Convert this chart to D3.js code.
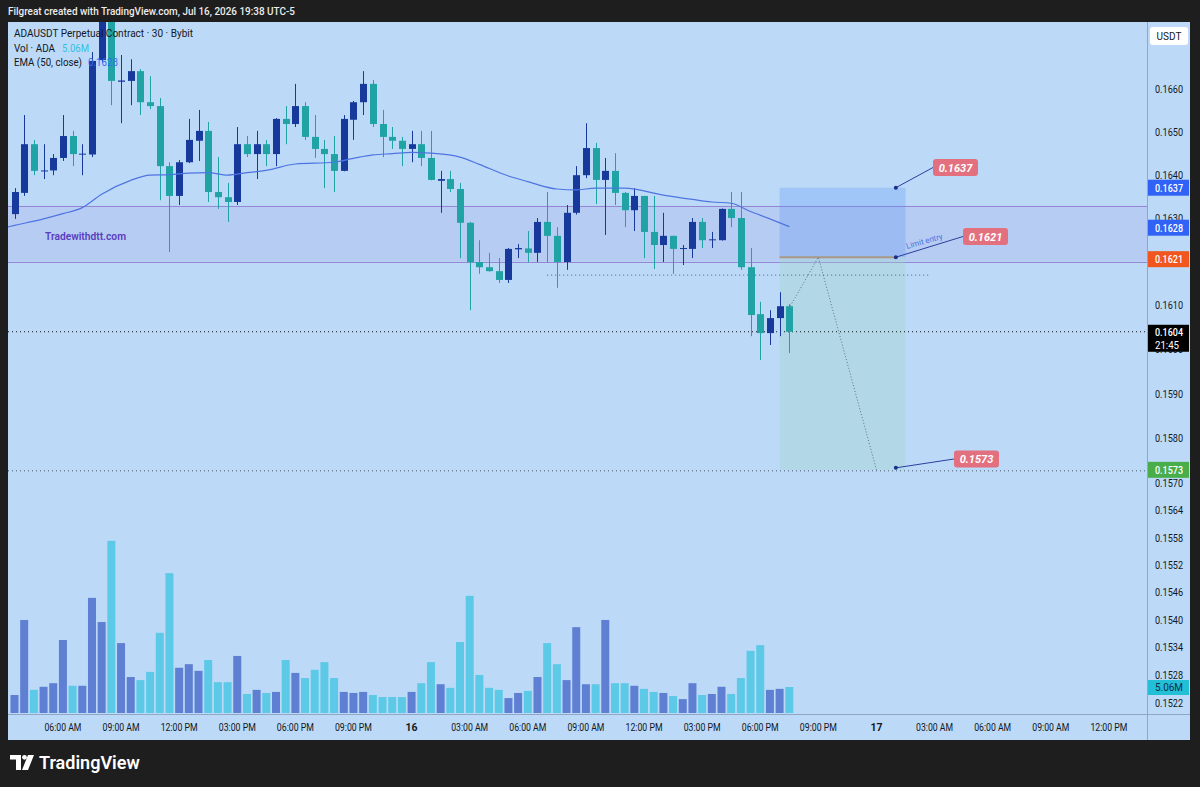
<!DOCTYPE html>
<html><head><meta charset="utf-8">
<script src="https://cdn.jsdelivr.net/npm/d3@7/dist/d3.min.js"></script>
<style>html,body{margin:0;padding:0;background:#1e1e1e;}svg{display:block;}text{font-family:Roboto,"Liberation Sans",sans-serif;}</style>
</head><body>
<svg id="c" width="1200" height="787"></svg>
<script>
// ---------------- DATA ----------------
const startTime = "2026-07-15T03:30:00Z";   // first 30m candle
const open = [
0.16309,0.16358,0.16471,0.16408,0.16410,0.16439,0.16490,0.16447,0.16447,0.16668,
0.16780,0.16617,0.16619,0.16642,0.16569,0.16560,0.16420,0.16351,0.16429,0.16479,
0.16502,0.16360,0.16348,0.16337,0.16471,0.16448,0.16471,0.16448,0.16530,0.16518,
0.16560,0.16488,0.16460,0.16448,0.16409,0.16528,0.16569,0.16612,0.16518,0.16488,
0.16479,0.16460,0.16471,0.16439,0.16386,0.16390,0.16367,0.16289,0.16199,0.16187,
0.16178,0.16158,0.16228,0.16230,0.16220,0.16291,0.16259,0.16199,0.16312,0.16399,
0.16462,0.16388,0.16409,0.16358,0.16318,0.16351,0.16268,0.16238,0.16259,0.16229,
0.16229,0.16291,0.16249,0.16249,0.16321,0.16300,0.16187,0.16080,0.16037,0.16071,
0.16098];
const high = [
0.16369,0.16539,0.16481,0.16471,0.16448,0.16539,0.16502,0.16471,0.16687,0.16798,
0.16795,0.16680,0.16670,0.16647,0.16630,0.16579,0.16429,0.16434,0.16530,0.16551,
0.16523,0.16441,0.16381,0.16511,0.16490,0.16502,0.16481,0.16532,0.16560,0.16612,
0.16569,0.16539,0.16481,0.16490,0.16539,0.16572,0.16642,0.16621,0.16551,0.16511,
0.16488,0.16502,0.16502,0.16502,0.16409,0.16409,0.16381,0.16291,0.16249,0.16220,
0.16208,0.16231,0.16240,0.16270,0.16300,0.16360,0.16279,0.16330,0.16420,0.16520,
0.16474,0.16439,0.16450,0.16360,0.16369,0.16351,0.16351,0.16312,0.16259,0.16238,
0.16300,0.16300,0.16268,0.16322,0.16360,0.16360,0.16231,0.16108,0.16089,0.16130,
0.16103];
const low = [
0.16298,0.16351,0.16399,0.16390,0.16399,0.16432,0.16420,0.16399,0.16441,0.16663,
0.16562,0.16520,0.16562,0.16539,0.16553,0.16341,0.16222,0.16330,0.16427,0.16432,
0.16337,0.16321,0.16291,0.16330,0.16441,0.16390,0.16420,0.16420,0.16471,0.16511,
0.16481,0.16439,0.16369,0.16360,0.16408,0.16481,0.16539,0.16511,0.16441,0.16460,
0.16420,0.16429,0.16420,0.16387,0.16312,0.16360,0.16208,0.16089,0.16172,0.16177,
0.16151,0.16151,0.16208,0.16199,0.16199,0.16199,0.16140,0.16181,0.16308,0.16392,
0.16332,0.16261,0.16330,0.16279,0.16270,0.16208,0.16183,0.16199,0.16172,0.16192,
0.16208,0.16231,0.16231,0.16248,0.16279,0.16181,0.16030,0.15976,0.16010,0.16030,
0.15992];
const close = [
0.16360,0.16471,0.16409,0.16410,0.16439,0.16490,0.16448,0.16449,0.16666,0.16782,
0.16619,0.16620,0.16642,0.16569,0.16560,0.16420,0.16351,0.16429,0.16481,0.16502,
0.16360,0.16348,0.16337,0.16471,0.16448,0.16471,0.16448,0.16530,0.16518,0.16560,
0.16488,0.16460,0.16448,0.16409,0.16530,0.16569,0.16612,0.16518,0.16488,0.16479,
0.16460,0.16471,0.16439,0.16388,0.16390,0.16367,0.16289,0.16199,0.16187,0.16178,
0.16158,0.16229,0.16231,0.16220,0.16291,0.16259,0.16199,0.16312,0.16399,0.16462,
0.16388,0.16409,0.16358,0.16318,0.16351,0.16268,0.16238,0.16259,0.16229,0.16231,
0.16291,0.16249,0.16251,0.16321,0.16300,0.16187,0.16078,0.16037,0.16071,0.16098,
0.16040];
// volume in millions ADA
const volume = [
3.5,18.1,4.5,5.1,5.8,14.2,5.3,5.3,22.4,17.7,
33.5,13.6,7.0,6.4,8.0,15.6,27.2,8.8,9.5,8.2,
10.3,6.0,6.0,11.1,3.7,4.5,3.9,4.1,10.3,7.8,
6.8,8.4,9.9,6.8,4.1,3.9,4.1,3.5,3.1,3.1,
3.1,4.1,5.8,9.9,5.6,4.9,13.8,22.8,7.4,4.9,
4.5,2.9,3.9,4.3,7.0,13.6,9.5,6.4,16.7,5.6,
5.6,18.1,5.8,5.8,5.3,4.7,4.1,3.9,3.3,2.7,
5.8,3.5,3.7,5.1,3.7,6.8,12.1,13.2,4.5,4.7,
5.06];
// EMA(50) read at candle indices
const emaIdx = [-1,0,3,5,7,9,12,14,16,18,20,22,24,26,29,33,35,37,39,41,43,46,48,51,53,56,58,60,63,67,70,72,74,76,78,80];
const emaVal = [0.16278,0.16283,0.16298,0.16310,0.16324,0.16355,0.16387,0.16399,0.16400,0.16404,0.16405,0.16399,0.16405,0.16410,0.16425,0.16429,0.16438,0.16446,0.16449,0.16452,0.16450,0.16441,0.16424,0.16397,0.16384,0.16367,0.16365,0.16369,0.16369,0.16353,0.16343,0.16337,0.16334,0.16315,0.16298,0.16280];
const priceTicks = [0.1660,0.1650,0.1640,0.1630,0.1610,0.1600,0.1590,0.1580,0.1570,0.1564,0.1558,0.1552,0.1546,0.1540,0.1534,0.1528,0.1522];
const timeTicks = ["2026-07-15T06:00Z","2026-07-15T09:00Z","2026-07-15T12:00Z","2026-07-15T15:00Z","2026-07-15T18:00Z","2026-07-15T21:00Z",
 "2026-07-16T00:00Z","2026-07-16T03:00Z","2026-07-16T06:00Z","2026-07-16T09:00Z","2026-07-16T12:00Z","2026-07-16T15:00Z","2026-07-16T18:00Z","2026-07-16T21:00Z",
 "2026-07-17T00:00Z","2026-07-17T03:00Z","2026-07-17T06:00Z","2026-07-17T09:00Z","2026-07-17T12:00Z"];
const zoneTop = 0.16328, zoneBottom = 0.16200;
const stopPrice = 0.1637, entryPrice = 0.1621, targetPrice = 0.1573, lastPrice = 0.1604, emaLast = 0.1628, dottedLevel = 0.16169;
const entryTouch = "2026-07-16T21:00:00Z", targetTouch = "2026-07-17T00:00:00Z";
const posStart = "2026-07-16T19:00:00Z", posEnd = "2026-07-17T01:30:00Z", posDots = "2026-07-17T01:00:00Z";
const dottedFrom = "2026-07-16T07:00:00Z", dottedTo = "2026-07-17T02:45:00Z";
const lastVolLabel = "5.06M";

// ---------------- SCALES ----------------
const W = 1200, H = 787;
const paneL = 8, paneR = 1147, paneT = 22, paneB = 714;
const HALF = 30*60*1000;
const t0 = new Date(startTime).getTime();
const times = open.map((d,i)=> new Date(t0 + i*HALF));
const x = d3.scaleUtc().domain([times[0], times[80]]).range([14.5, 14.5 + 80*9.685]);
const xi = k => x(new Date(t0 + k*HALF));
const y = d3.scaleLog().domain([0.1660, 0.1522]).range([89, 703]);
const yv = d3.scaleLinear().domain([0, 35]).range([713, 713 - 35*5.14]);

const UP = "#17399c", DOWN = "#1fa3a5";
const VUP = "#5f7fd2", VDOWN = "#5cc9e6";
const BG = "#bcdaf8";

const svg = d3.select("#c");
svg.append("rect").attr("width",W).attr("height",H).attr("fill","#1e1e1e");
// title
svg.append("text").attr("x",8).attr("y",15).attr("fill","#ececec").attr("font-size",11.5).attr("font-weight",500)
  .attr("textLength",287).attr("lengthAdjust","spacingAndGlyphs")
  .text("Filgreat created with TradingView.com, Jul 16, 2026 19:38 UTC-5");
// pane background
svg.append("rect").attr("x",paneL).attr("y",paneT).attr("width",1190-paneL).attr("height",740-paneT).attr("fill",BG);

const defs = svg.append("defs");
defs.append("clipPath").attr("id","pane").append("rect").attr("x",paneL).attr("y",paneT).attr("width",paneR-paneL).attr("height",paneB-paneT);
const g = svg.append("g").attr("clip-path","url(#pane)");

// purple zone
g.append("rect").attr("x",paneL).attr("width",paneR-paneL).attr("y",y(zoneTop)).attr("height",y(zoneBottom)-y(zoneTop))
  .attr("fill","#9575cd").attr("fill-opacity",0.13);
[zoneTop, zoneBottom].forEach(p=> g.append("line").attr("x1",paneL).attr("x2",paneR).attr("y1",Math.round(y(p))+0.5).attr("y2",Math.round(y(p))+0.5)
  .attr("stroke","#9587d6").attr("stroke-width",1));

// watermark
g.append("text").attr("x",45).attr("y",240).attr("fill","#5a3cbf").attr("font-size",11).attr("font-weight",600)
  .attr("textLength",81).attr("lengthAdjust","spacingAndGlyphs").text("Tradewithdtt.com");

// volume
g.selectAll("rect.vol").data(volume).join("rect").attr("class","vol")
  .attr("x",(d,i)=> x(times[i]) - 4).attr("width",8)
  .attr("y",d=> yv(d)).attr("height",d=> yv(0)-yv(d))
  .attr("fill",(d,i)=> close[i] >= open[i] ? VUP : VDOWN);

// position tool
const px0 = x(new Date(posStart)), px1 = x(new Date(posEnd));
g.append("rect").attr("x",px0).attr("width",px1-px0).attr("y",y(stopPrice)).attr("height",y(entryPrice)-y(stopPrice))
  .attr("fill","#5b8ff5").attr("fill-opacity",0.28);
g.append("rect").attr("x",px0).attr("width",px1-px0).attr("y",y(entryPrice)).attr("height",y(targetPrice)-y(entryPrice))
  .attr("fill","#9fd4c8").attr("fill-opacity",0.33);

// dotted horizontal lines
g.append("line").attr("x1",paneL).attr("x2",paneR).attr("y1",y(lastPrice)).attr("y2",y(lastPrice))
  .attr("stroke","#111").attr("stroke-width",1).attr("stroke-dasharray","1,3");
g.append("line").attr("x1",paneL).attr("x2",paneR).attr("y1",y(targetPrice)+1).attr("y2",y(targetPrice)+1)
  .attr("stroke","#4a5a6a").attr("stroke-width",1).attr("stroke-dasharray","1,3");
g.append("line").attr("x1",x(new Date(dottedFrom))).attr("x2",x(new Date(dottedTo))).attr("y1",y(dottedLevel)).attr("y2",y(dottedLevel))
  .attr("stroke","#4a5a6a").attr("stroke-width",1).attr("stroke-dasharray","1,3");

// candles
const cg = g.append("g");
times.forEach((t,i)=>{
  const cx = Math.round(x(t));
  const up = close[i] >= open[i];
  const col = up ? UP : DOWN;
  cg.append("line").attr("x1",cx+0.5).attr("x2",cx+0.5).attr("y1",y(high[i])).attr("y2",y(low[i])).attr("stroke",col).attr("stroke-width",1);
  const top = y(Math.max(open[i],close[i])), bot = y(Math.min(open[i],close[i]));
  cg.append("rect").attr("x",cx-3).attr("width",7).attr("y",top).attr("height",Math.max(1,bot-top)).attr("fill",col);
});

// EMA
g.append("path").datum(emaIdx.map((k,j)=>[xi(k), y(emaVal[j])]))
  .attr("d", d3.line().curve(d3.curveMonotoneX)).attr("fill","none").attr("stroke","#4f74e0").attr("stroke-width",1.2);

// entry line and projected path
const dotX = x(new Date(posDots));
g.append("line").attr("x1",px0).attr("x2",dotX).attr("y1",y(entryPrice)).attr("y2",y(entryPrice))
  .attr("stroke","#a89886").attr("stroke-width",2);
g.append("path").datum([[x(times[80])+1, y(high[80])+2],[x(new Date(entryTouch)), y(entryPrice)],[x(new Date(targetTouch)), y(targetPrice)]])
  .attr("d", d3.line()).attr("fill","none").attr("stroke","#5f6f80").attr("stroke-width",1).attr("stroke-dasharray","1,2");

// labels of position tool
const pills = [
  {p: stopPrice, lx: 933, ly: 167.5, txt: "0.1637"},
  {p: entryPrice, lx: 963, ly: 236.5, txt: "0.1621"},
  {p: targetPrice, lx: 954, ly: 459, txt: "0.1573"}
];
pills.forEach(d=>{
  const dy = d.p === targetPrice ? y(d.p)-2 : y(d.p);
  svg.append("line").attr("x1",dotX).attr("y1",dy).attr("x2",d.lx).attr("y2",d.ly).attr("stroke","#2a3f9e").attr("stroke-width",1);
  svg.append("circle").attr("cx",dotX).attr("cy",dy).attr("r",2).attr("fill","#1a2f8a");
  svg.append("rect").attr("x",d.lx).attr("y",d.ly-8.5).attr("width",45).attr("height",17).attr("rx",3).attr("fill","#e2707f");
  svg.append("text").attr("x",d.lx+22.5).attr("y",d.ly+4).attr("text-anchor","middle").attr("fill","#fff")
    .attr("font-size",11).attr("font-weight",700).attr("font-style","italic").text(d.txt);
});
svg.append("text").attr("transform",`translate(${907},${249}) rotate(-16)`).attr("fill","#4d6fe0").attr("font-size",8).text("Limit entry");

// legend
const lg = svg.append("g").attr("font-size",11.5).attr("fill","#131722");
lg.append("text").attr("x",14).attr("y",37).attr("textLength",179).attr("lengthAdjust","spacingAndGlyphs").text("ADAUSDT Perpetual Contract · 30 · Bybit");
lg.append("text").attr("x",14).attr("y",51.5).attr("textLength",41).attr("lengthAdjust","spacingAndGlyphs").text("Vol · ADA");
lg.append("text").attr("x",62).attr("y",51.5).attr("fill","#33c1dc").attr("textLength",27).attr("lengthAdjust","spacingAndGlyphs").text(lastVolLabel);
lg.append("text").attr("x",14).attr("y",65.5).attr("textLength",68).attr("lengthAdjust","spacingAndGlyphs").text("EMA (50, close)");
lg.append("text").attr("x",88).attr("y",65.5).attr("fill","#3a6cf0").attr("textLength",30).attr("lengthAdjust","spacingAndGlyphs").text(emaLast.toFixed(4));

// axes separators
svg.append("line").attr("x1",paneR+0.5).attr("x2",paneR+0.5).attr("y1",paneT).attr("y2",740).attr("stroke","#8fa7c4").attr("stroke-width",1);
svg.append("line").attr("x1",paneL).attr("x2",1190).attr("y1",paneB+0.5).attr("y2",paneB+0.5).attr("stroke","#8fa7c4").attr("stroke-width",1);

// price axis ticks
const pa = svg.append("g").attr("font-size",10.5).attr("fill","#131722");
priceTicks.forEach(p=> pa.append("text").attr("x",1155).attr("y",y(p)+4).attr("textLength",28).attr("lengthAdjust","spacingAndGlyphs").text(p.toFixed(4)));

// price axis badges
function badge(p, txt, fill, tcol, yy){
  const cy = yy !== undefined ? yy : y(p);
  svg.append("rect").attr("x",1148).attr("y",cy-8).attr("width",41).attr("height",16).attr("fill",fill);
  svg.append("text").attr("x",1155).attr("y",cy+4).attr("fill",tcol).attr("font-size",10.5).attr("font-weight",500)
    .attr("textLength",28).attr("lengthAdjust","spacingAndGlyphs").text(txt);
}
badge(stopPrice, "0.1637", "#2f62f5", "#fff");
badge(emaLast, "0.1628", "#2f62f5", "#fff", y(emaLast)+1);
badge(entryPrice, "0.1621", "#f0561d", "#fff", y(entryPrice)+2);
badge(targetPrice, "0.1573", "#49ad4a", "#fff");
// last price two-line badge
svg.append("rect").attr("x",1148).attr("y",y(lastPrice)-7).attr("width",41).attr("height",27).attr("fill","#000");
svg.append("text").attr("x",1155).attr("y",y(lastPrice)+4).attr("fill","#fff").attr("font-size",10.5).attr("font-weight",500).attr("textLength",28).attr("lengthAdjust","spacingAndGlyphs").text("0.1604");
svg.append("text").attr("x",1155).attr("y",y(lastPrice)+17).attr("fill","#fff").attr("font-size",10.5).attr("textLength",24).attr("lengthAdjust","spacingAndGlyphs").text("21:45");
// volume badge
svg.append("rect").attr("x",1148).attr("y",yv(volume[80])-7).attr("width",41).attr("height",15).attr("fill","#22bfd6");
svg.append("text").attr("x",1155).attr("y",yv(volume[80])+4).attr("fill","#0f2c4e").attr("font-size",10.5).attr("textLength",28).attr("lengthAdjust","spacingAndGlyphs").text(lastVolLabel);

// USDT box
svg.append("rect").attr("x",1150).attr("y",27).attr("width",38).attr("height",18).attr("rx",3).attr("fill","#fff");
svg.append("text").attr("x",1169).attr("y",40).attr("text-anchor","middle").attr("font-size",10).attr("fill","#131722").text("USDT");

// time axis
const ta = svg.append("g").attr("font-size",10.5).attr("fill","#131722");
const fmt = d3.utcFormat("%I:%M %p");
timeTicks.forEach(s=>{
  const d = new Date(s);
  const mid = d.getUTCHours() === 0;
  const t = ta.append("text").attr("x",x(d)).attr("y",731).attr("text-anchor","middle")
    .attr("font-weight", mid ? 700 : 400).text(mid ? String(d.getUTCDate()) : fmt(d));
  if (!mid) t.attr("textLength",37).attr("lengthAdjust","spacingAndGlyphs");
});

// TradingView logo
const lo = svg.append("g").attr("fill","#ffffff");
lo.append("path").attr("d","M10 755 H21 V770 H16 V759.5 H10 Z");
lo.append("circle").attr("cx",24.5).attr("cy",757.3).attr("r",2.4);
lo.append("path").attr("d","M28 755 H34 L28 770 H22 Z");
lo.append("text").attr("x",39).attr("y",769).attr("font-size",18).attr("font-weight",600).attr("fill","#fff").text("TradingView");
</script>
</body></html>
